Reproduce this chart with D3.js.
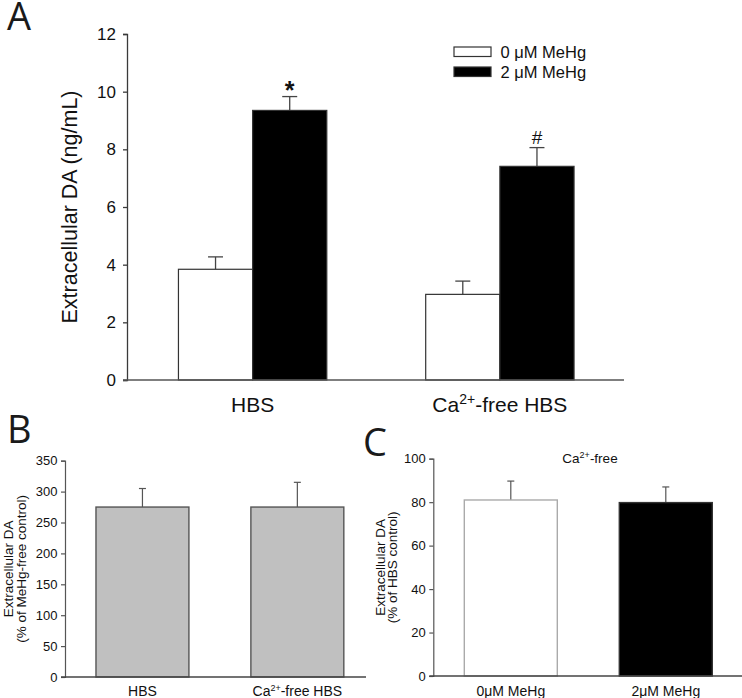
<!DOCTYPE html>
<html>
<head>
<meta charset="utf-8">
<script src="https://cdn.jsdelivr.net/npm/d3@7"></script>
<style>
  html, body { margin: 0; padding: 0; background: #fff; }
  svg { display: block; }
  text { font-family: "Liberation Sans", Arial, sans-serif; fill: #111; }
  .letter { font-family: "Open Sans", "DejaVu Sans", sans-serif; fill: #1a1a1a; }
</style>
</head>
<body>
<svg id="chart" width="742" height="698"></svg>
<script>
// ---------------- Panel A data ----------------
const groupsA = ["HBS", "Ca2+-free HBS"];
const seriesA = ["0 μM MeHg", "2 μM MeHg"];
const meansA0 = [3.84, 2.97];
const errA0   = [0.43, 0.46];
const meansA2 = [9.35, 7.41];
const errA2   = [0.48, 0.65];
const marksA  = ["*", "#"];
const ticksA  = [0, 2, 4, 6, 8, 10, 12];

// ---------------- Panel B data ----------------
const categoriesB = ["HBS", "Ca2+-free HBS"];
const valuesB = [275, 275];
const errB    = [30, 40];
const ticksB  = [0, 50, 100, 150, 200, 250, 300, 350];

// ---------------- Panel C data ----------------
const categoriesC = ["0μM MeHg", "2μM MeHg"];
const valuesC = [81.0, 79.8];
const errC    = [8.7, 7.2];
const ticksC  = [0, 20, 40, 60, 80, 100];
const titleC  = "Ca2+-free";

const svg = d3.select("#chart");
const axisColor = "#3a3a3a";

// helper: render label with "Ca2+" superscript
function richLabel(sel, label, supSize) {
  const m = label.match(/^(.*?)Ca2\+(.*)$/);
  if (!m) { sel.text(label); return; }
  sel.append("tspan").text(m[1] + "Ca");
  sel.append("tspan").attr("baseline-shift", "super").attr("font-size", supSize).text("2+");
  sel.append("tspan").text(m[2]);
}

// =============== PANEL A ===============
(function () {
  const y = d3.scaleLinear().domain([0, 12]).range([380, 34]);
  const x = d3.scaleBand().domain(groupsA).range([129, 623.5]).paddingInner(0.4).paddingOuter(0.2);
  const xs = d3.scaleBand().domain(seriesA).range([0, x.bandwidth()]);
  const g = svg.append("g");
  const x0 = 127;

  // y axis
  const ya = g.append("g").attr("transform", `translate(${x0},0)`)
    .call(d3.axisLeft(y).tickValues(ticksA).tickSize(4).tickPadding(7).tickFormat(d3.format("d")));
  ya.select(".domain").attr("stroke", axisColor).attr("stroke-width", 1.3);
  ya.selectAll(".tick line").attr("stroke", axisColor).attr("stroke-width", 1.3);
  ya.selectAll(".tick text").attr("font-size", 17).attr("font-family", "Liberation Sans, Arial").attr("fill", "#111");

  const data = groupsA.map((gname, i) => ({
    g: gname,
    vals: [
      { s: seriesA[0], v: meansA0[i], e: errA0[i], fill: "#fff" },
      { s: seriesA[1], v: meansA2[i], e: errA2[i], fill: "#000" }
    ],
    mark: marksA[i]
  }));

  data.forEach(d => {
    d.vals.forEach(b => {
      const bx = x(d.g) + xs(b.s);
      const cx = bx + xs.bandwidth() / 2;
      // error bar (upward)
      g.append("line").attr("x1", cx).attr("x2", cx).attr("y1", y(b.v)).attr("y2", y(b.v + b.e))
        .attr("stroke", "#444").attr("stroke-width", 1.3);
      g.append("line").attr("x1", cx - 7.5).attr("x2", cx + 7.5).attr("y1", y(b.v + b.e)).attr("y2", y(b.v + b.e))
        .attr("stroke", "#444").attr("stroke-width", 1.3);
      g.append("rect").attr("x", bx).attr("y", y(b.v)).attr("width", xs.bandwidth()).attr("height", y(0) - y(b.v))
        .attr("fill", b.fill).attr("stroke", "#333").attr("stroke-width", 1.2);
    });
    const top = d.vals[1];
    const cx = x(d.g) + xs(top.s) + xs.bandwidth() / 2;
    const t = g.append("text").attr("x", cx).attr("text-anchor", "middle").text(d.mark);
    if (d.mark === "*") t.attr("y", y(top.v + top.e) + 2).attr("font-size", 25).attr("font-weight", "bold");
    else t.attr("y", y(top.v + top.e) - 3.5).attr("font-size", 19);
  });

  // x axis line
  g.append("line").attr("x1", x0 - 4).attr("x2", 624).attr("y1", y(0)).attr("y2", y(0))
    .attr("stroke", "#555").attr("stroke-width", 1.4);

  // x labels
  groupsA.forEach(gname => {
    const t = g.append("text").attr("x", x(gname) + x.bandwidth() / 2).attr("y", 412)
      .attr("text-anchor", "middle").attr("font-size", 21);
    richLabel(t, gname, 14);
  });

  // y title
  g.append("text").attr("transform", `translate(76.5,${(y(0) + y(12)) / 2}) rotate(-90)`)
    .attr("text-anchor", "middle").attr("font-size", 21.5).text("Extracellular DA (ng/mL)");

  // legend
  const lg = g.append("g");
  seriesA.forEach((s, i) => {
    lg.append("rect").attr("x", 454).attr("y", 47 + i * 20).attr("width", 37).attr("height", 9.5)
      .attr("fill", i === 0 ? "#fff" : "#000").attr("stroke", "#333").attr("stroke-width", 1.2);
    lg.append("text").attr("x", 500.5).attr("y", 57.5 + i * 20).attr("font-size", 16.5).text(s);
  });

  svg.append("text").attr("class", "letter").attr("x", 7).attr("y", 30).attr("font-size", 38).text("A");
})();

// =============== small panel helper ===============
function smallPanel(opts) {
  const { cats, vals, errs, ticks, ymax, x0, xEnd, rangeEnd, yTop, yBot, fills, strokes, title1, title2, tx1, tx2 } = opts;
  const g = svg.append("g");
  const y = d3.scaleLinear().domain([0, ymax]).range([yBot, yTop]);
  const x = d3.scaleBand().domain(cats).range([x0, rangeEnd]).paddingInner(0.4).paddingOuter(0.2);

  const ya = g.append("g").attr("transform", `translate(${x0},0)`)
    .call(d3.axisLeft(y).tickValues(ticks).tickSize(4).tickPadding(3.5).tickFormat(d3.format("d")));
  ya.select(".domain").attr("stroke", "#555").attr("stroke-width", 1.2);
  ya.selectAll(".tick line").attr("stroke", "#555").attr("stroke-width", 1.2);
  ya.selectAll(".tick text").attr("font-size", 13).attr("font-family", "Liberation Sans, Arial").attr("fill", "#111");

  cats.forEach((c, i) => {
    const bx = x(c), cx = bx + x.bandwidth() / 2;
    g.append("line").attr("x1", cx).attr("x2", cx).attr("y1", y(vals[i])).attr("y2", y(vals[i] + errs[i]))
      .attr("stroke", "#555").attr("stroke-width", 1.2);
    g.append("line").attr("x1", cx - 3.5).attr("x2", cx + 3.5).attr("y1", y(vals[i] + errs[i])).attr("y2", y(vals[i] + errs[i]))
      .attr("stroke", "#555").attr("stroke-width", 1.2);
    g.append("rect").attr("x", bx).attr("y", y(vals[i])).attr("width", x.bandwidth()).attr("height", y(0) - y(vals[i]))
      .attr("fill", fills[i]).attr("stroke", strokes[i]).attr("stroke-width", 1.4);
    const t = g.append("text").attr("x", cx).attr("y", 696).attr("text-anchor", "middle").attr("font-size", 14);
    richLabel(t, c, 9);
  });

  g.append("line").attr("x1", x0 - 4).attr("x2", xEnd).attr("y1", y(0)).attr("y2", y(0))
    .attr("stroke", "#444").attr("stroke-width", 1.4);

  const cy = (y(0) + y(ymax)) / 2;
  g.append("text").attr("transform", `translate(${tx1},${cy}) rotate(-90)`).attr("text-anchor", "middle")
    .attr("font-size", 13.5).text(title1);
  g.append("text").attr("transform", `translate(${tx2},${cy}) rotate(-90)`).attr("text-anchor", "middle")
    .attr("font-size", 13.5).text(title2);
  return { g, x, y };
}

// =============== PANEL B ===============
smallPanel({
  cats: categoriesB, vals: valuesB, errs: errB, ticks: ticksB, ymax: 350,
  x0: 65, xEnd: 366, rangeEnd: 374.8, yTop: 460.7, yBot: 677,
  fills: ["#c0c0c0", "#c0c0c0"], strokes: ["#555", "#555"],
  title1: "Extracellular DA", title2: "(% of MeHg-free control)", tx1: 12.5, tx2: 25.5
});
svg.append("text").attr("class", "letter").attr("x", 7).attr("y", 443).attr("font-size", 38).text("B");

// =============== PANEL C ===============
const pc = smallPanel({
  cats: categoriesC, vals: valuesC, errs: errC, ticks: ticksC, ymax: 100,
  x0: 433.3, xEnd: 742, rangeEnd: 743.3, yTop: 458.7, yBot: 676,
  fills: ["#fff", "#000"], strokes: ["#aaa", "#333"],
  title1: "Extracellular DA", title2: "(% of HBS control)", tx1: 384.5, tx2: 396.5
});
{
  const t = pc.g.append("text").attr("x", 590).attr("y", 463).attr("text-anchor", "middle").attr("font-size", 13.5);
  richLabel(t, titleC, 9);
}
svg.append("text").attr("class", "letter").attr("x", 363).attr("y", 456).attr("font-size", 38).text("C");
</script>
</body>
</html>
